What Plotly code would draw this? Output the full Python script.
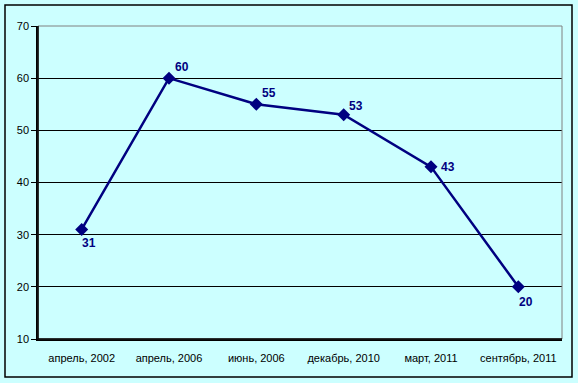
import plotly.graph_objects as go

categories = ["апрель, 2002", "апрель, 2006", "июнь, 2006", "декабрь, 2010", "март, 2011", "сентябрь, 2011"]
values = [31, 60, 55, 53, 43, 20]
y_ticks = [10, 20, 30, 40, 50, 60, 70]

navy = "#000080"
bg = "#ccffff"

label_shift = [(7, -14), (13, 11), (13, 11), (12, 9), (17, 0), (8, -15)]

fig = go.Figure()
fig.add_trace(go.Scatter(
    x=categories, y=values, mode="lines+markers",
    line=dict(color=navy, width=2.5),
    marker=dict(symbol="diamond", size=10, color=navy),
    hoverinfo="skip", showlegend=False,
))

for c, v, (dx, dy) in zip(categories, values, label_shift):
    fig.add_annotation(x=c, y=v, text=f"<b>{v}</b>", showarrow=False,
                       xshift=dx, yshift=dy,
                       font=dict(family="Liberation Sans, Arial", size=12, color=navy))

fig.update_layout(
    width=578, height=383,
    margin=dict(l=38, r=16, t=26, b=44),
    paper_bgcolor=bg, plot_bgcolor=bg,
    font=dict(family="Liberation Sans, Arial", size=11, color="#000000"),
    xaxis=dict(showgrid=False, showline=True, linecolor="#000000", linewidth=1.5,
               ticks="", tickfont=dict(size=11), range=[-0.5, 5.5], fixedrange=True,
               ticklabelstandoff=8),
    yaxis=dict(range=[10, 70], tickvals=y_ticks, showgrid=True, gridcolor="#000000",
               gridwidth=1, showline=True, linecolor="#000000", linewidth=1.5,
               ticks="outside", ticklen=5, tickcolor="#000000",
               tickfont=dict(size=11), zeroline=False),
    shapes=[
        dict(type="rect", xref="paper", yref="paper", x0=0, x1=1, y0=0, y1=1,
             line=dict(color="#808080", width=1), layer="above"),
        dict(type="line", xref="paper", yref="paper", x0=0, x1=0, y0=0, y1=1,
             line=dict(color="#000000", width=1.5), layer="above"),
        dict(type="line", xref="paper", yref="paper", x0=0, x1=1, y0=0, y1=0,
             line=dict(color="#000000", width=1.5), layer="above"),
        dict(type="rect", xref="paper", yref="paper",
             x0=-33/524, x1=1 + 10/524, y0=-38/313, y1=1 + 21/313,
             line=dict(color="#000000", width=1.5), layer="above"),
    ],
)

fig.write_html("out.html", config={"displayModeBar": False},
               post_script="document.body.style.margin='0px';document.body.style.padding='0px';document.body.style.overflow='hidden';")
